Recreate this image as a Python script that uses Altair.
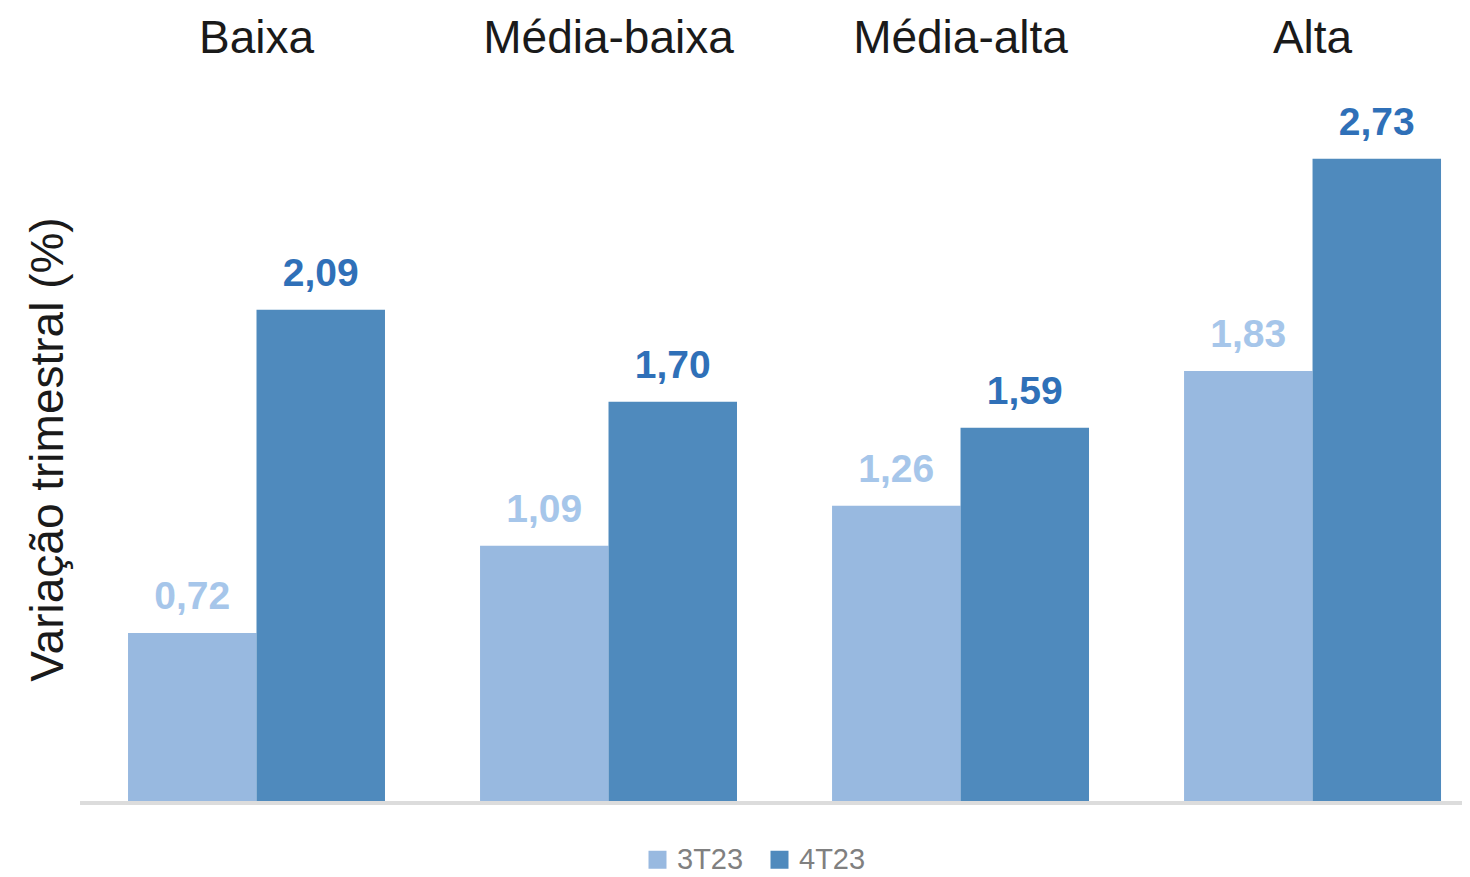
import altair as alt
import pandas as pd

categories = ["Baixa", "Média-baixa", "Média-alta", "Alta"]
series = ["3T23", "4T23"]
values_3t23 = [0.72, 1.09, 1.26, 1.83]
values_4t23 = [2.09, 1.70, 1.59, 2.73]

bar_colors = ["#98b9e0", "#4f8abd"]
label_colors = ["#a6c6ea", "#2f70b8"]

rows = []
for i, c in enumerate(categories):
    for s, vals, lc in zip(series, [values_3t23, values_4t23], label_colors):
        v = vals[i]
        rows.append({"cat": c, "serie": s, "v": v,
                     "lbl": f"{v:.2f}".replace(".", ","), "lc": lc})
df = pd.DataFrame(rows)

FONT = "Liberation Sans"

x_enc = alt.X("cat:N", sort=categories, title=None,
              scale=alt.Scale(paddingInner=0.27, paddingOuter=0.098, align=0.696),
              axis=alt.Axis(orient="top", ticks=False, tickSize=0, domain=False,
                            labelFontSize=46, labelFont=FONT, labelColor="#1a1a1a",
                            labelPadding=33, labelAngle=0, labelLimit=0))
xo_enc = alt.XOffset("serie:N", sort=series,
                     scale=alt.Scale(paddingInner=0, paddingOuter=0))
y_enc = alt.Y("v:Q", scale=alt.Scale(domain=[0, 3]),
              axis=alt.Axis(labels=False, ticks=False, domain=False, grid=False,
                            title="Variação trimestral (%)", titleFontSize=46,
                            titleFont=FONT, titleFontWeight="normal",
                            titleColor="#1a1a1a", titleX=-32, titleBaseline="middle"))

base = alt.Chart(df).encode(x=x_enc, xOffset=xo_enc, y=y_enc)

bars = base.mark_bar().encode(
    color=alt.Color("serie:N", sort=series,
                    scale=alt.Scale(domain=series, range=bar_colors),
                    legend=alt.Legend(title=None, orient="none", direction="horizontal",
                                      legendX=563, legendY=750, symbolType="square",
                                      symbolSize=324, symbolStrokeWidth=0,
                                      labelFontSize=29, labelFont=FONT,
                                      labelColor="#808080", labelOffset=5,
                                      columnPadding=21, padding=0))
)

labels = base.mark_text(fontSize=39, fontWeight="bold", font=FONT,
                        baseline="alphabetic", dy=-24).encode(
    text="lbl:N",
    color=alt.Color("lc:N", scale=None),
)

rule = alt.Chart(pd.DataFrame({"z": [0]})).mark_rule(
    color="#dcdcdc", strokeWidth=4).encode(y=alt.Y("z:Q"))

chart = alt.layer(bars, labels, rule).properties(
    width=1382, height=708,
    autosize=alt.AutoSizeParams(type="none"),
    padding={"left": 72, "top": 87, "right": 0, "bottom": 73},
).configure(background="white").configure_view(strokeWidth=0, stroke=None)

chart.save("out.html", embed_options={"renderer": "svg", "actions": False})
